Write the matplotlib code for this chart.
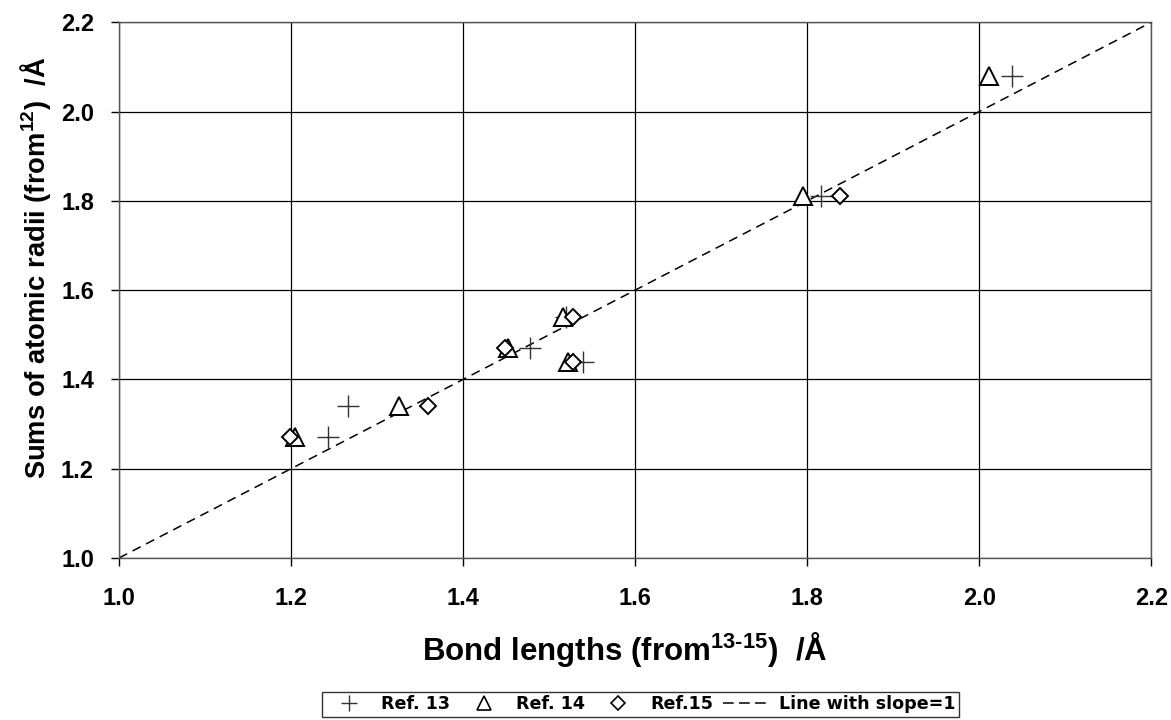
import matplotlib
matplotlib.use('Agg')
import matplotlib.pyplot as plt

# Dati
ref13_x = [1.243, 1.266, 1.478, 1.520, 1.540, 1.816, 2.038]
ref13_y = [1.27, 1.34, 1.47, 1.54, 1.44, 1.81, 2.08]

ref14_x = [1.205, 1.326, 1.452, 1.516, 1.522, 1.795, 2.012]
ref14_y = [1.27, 1.34, 1.47, 1.54, 1.44, 1.81, 2.08]

ref15_x = [1.199, 1.359, 1.449, 1.528, 1.528, 1.838]
ref15_y = [1.27, 1.34, 1.47, 1.54, 1.44, 1.81]

line_x = [1.0, 2.2]
line_y = [1.0, 2.2]

ticks = [1.0, 1.2, 1.4, 1.6, 1.8, 2.0, 2.2]

plt.rcParams['font.family'] = 'Liberation Sans'
plt.rcParams['font.weight'] = 'bold'
plt.rcParams['mathtext.fontset'] = 'custom'
plt.rcParams['mathtext.rm'] = 'Liberation Sans'
plt.rcParams['mathtext.it'] = 'Liberation Sans:italic'
plt.rcParams['mathtext.bf'] = 'Liberation Sans:bold'

fig = plt.figure(figsize=(11.71, 7.2), dpi=100)
ax = fig.add_axes([0.1016, 0.225, 0.8815, 0.744])

ax.plot(ref13_x, ref13_y, linestyle='none', marker='+', markersize=16,
        markeredgewidth=1.0, color='#333333', label='Ref. 13', zorder=3)
ax.plot(ref14_x, ref14_y, linestyle='none', marker='^', markersize=13,
        markerfacecolor='white', markeredgecolor='black', markeredgewidth=1.4,
        label='Ref. 14', zorder=3)
ax.plot(ref15_x, ref15_y, linestyle='none', marker='D', markersize=8,
        markerfacecolor='white', markeredgecolor='black', markeredgewidth=1.4,
        label='Ref.15', zorder=4)
ax.plot(line_x, line_y, color='black', linestyle=(0, (6, 4)), linewidth=1.1,
        label='Line with slope=1', zorder=2)

ax.set_xlim(1.0, 2.2)
ax.set_ylim(1.0, 2.2)
ax.set_xticks(ticks)
ax.set_yticks(ticks)
ax.set_xticklabels(['%.1f' % t for t in ticks])
ax.set_yticklabels(['%.1f' % t for t in ticks])
ax.grid(True, color='black', linewidth=0.9)
ax.set_axisbelow(True)
for s in ax.spines.values():
    s.set_color('#555555')
    s.set_linewidth(1.0)

ax.tick_params(axis='both', labelsize=17, direction='out', length=6, width=1,
               colors='black')
ax.tick_params(axis='x', pad=15)
ax.tick_params(axis='y', pad=12)

ax.set_xlabel(r'Bond lengths (from$^{13\text{-}15}$)  /Å', fontsize=22.5,
              fontweight='bold')
ax.xaxis.set_label_coords(0.49, -0.135)
ax.set_ylabel(r'Sums of atomic radii (from$^{12}$)  /Å', fontsize=19.7,
              fontweight='bold')
ax.yaxis.set_label_coords(-0.064, 0.542)

leg = ax.legend(loc='center', bbox_to_anchor=(0.547, 0.0222),
                bbox_transform=fig.transFigure, ncol=4,
                frameon=True, fancybox=False, edgecolor='black',
                prop={'family': 'DejaVu Sans', 'weight': 'bold', 'size': 12.6},
                handlelength=2.7, handletextpad=0.5, columnspacing=0.55,
                borderpad=0.2, borderaxespad=0)
leg.get_frame().set_linewidth(1.0)
hs = leg.legend_handles
hs[0].set_markersize(12)
hs[1].set_markersize(9.5)
hs[1].set_markeredgewidth(1.2)
hs[2].set_markersize(7)
hs[2].set_markeredgewidth(1.2)
hs[3].set_linestyle((0, (7, 3.5)))

fig.savefig('out.png', dpi=100)
